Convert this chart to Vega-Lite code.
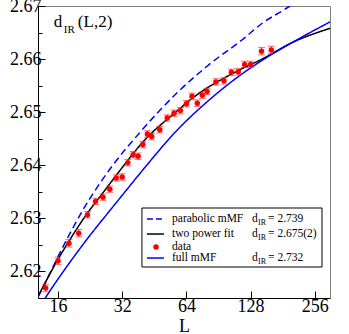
{
"$schema":"https://vega.github.io/schema/vega-lite/v6.json",
"width":292,"height":292,
"autosize":{"type":"none"},
"padding":{"left":38,"top":6,"right":19,"bottom":36},
"background":"white",
"config":{"view":{"stroke":"#808080","strokeWidth":1},"font":"Liberation Serif",
 "text":{"font":"Liberation Serif","color":"#000","align":"left","baseline":"middle","fontSize":11.5},
 "axis":{"grid":false,"domainColor":"#000","tickColor":"#000","labelColor":"#000","titleColor":"#000","labelFont":"Liberation Serif","titleFont":"Liberation Serif","labelFontSize":18,"titleFontSize":18,"titleFontWeight":"normal","domainWidth":1,"tickWidth":1,"labelOverlap":false}},
"resolve":{"axis":{"x":"independent","y":"independent"}},
"datasets":{
 "curves":[
  {"series":"parabolic mMF","L":12.9,"y":2.6152},
  {"series":"parabolic mMF","L":14,"y":2.6180},
  {"series":"parabolic mMF","L":16,"y":2.6228},
  {"series":"parabolic mMF","L":18,"y":2.6268},
  {"series":"parabolic mMF","L":20.74,"y":2.6313},
  {"series":"parabolic mMF","L":24.37,"y":2.6358},
  {"series":"parabolic mMF","L":28.04,"y":2.6393},
  {"series":"parabolic mMF","L":38.77,"y":2.6462},
  {"series":"parabolic mMF","L":58.4,"y":2.6538},
  {"series":"parabolic mMF","L":80.8,"y":2.6588},
  {"series":"parabolic mMF","L":116.6,"y":2.6636},
  {"series":"parabolic mMF","L":146.8,"y":2.6669},
  {"series":"parabolic mMF","L":185.5,"y":2.6694},
  {"series":"parabolic mMF","L":230,"y":2.6720},
  {"series":"two power fit","L":12.93,"y":2.6154},
  {"series":"two power fit","L":15.8,"y":2.6219},
  {"series":"two power fit","L":18.2,"y":2.6260},
  {"series":"two power fit","L":21.9,"y":2.6309},
  {"series":"two power fit","L":25.2,"y":2.6341},
  {"series":"two power fit","L":31.2,"y":2.6390},
  {"series":"two power fit","L":40.9,"y":2.6448},
  {"series":"two power fit","L":56.6,"y":2.6499},
  {"series":"two power fit","L":66.6,"y":2.6523},
  {"series":"two power fit","L":114.1,"y":2.6580},
  {"series":"two power fit","L":141.6,"y":2.6598},
  {"series":"two power fit","L":200.1,"y":2.6631},
  {"series":"two power fit","L":301.6,"y":2.6658},
  {"series":"full mMF","L":13.8,"y":2.6147},
  {"series":"full mMF","L":14.16,"y":2.6154},
  {"series":"full mMF","L":17.58,"y":2.6209},
  {"series":"full mMF","L":21.81,"y":2.6260},
  {"series":"full mMF","L":28.04,"y":2.6315},
  {"series":"full mMF","L":31.2,"y":2.6338},
  {"series":"full mMF","L":40.9,"y":2.6396},
  {"series":"full mMF","L":56.6,"y":2.6462},
  {"series":"full mMF","L":80.8,"y":2.6521},
  {"series":"full mMF","L":116.6,"y":2.6572},
  {"series":"full mMF","L":141.6,"y":2.6595},
  {"series":"full mMF","L":200.1,"y":2.6631},
  {"series":"full mMF","L":301.6,"y":2.6670}
 ],
 "pts":[
  {"L":14,"y":2.6169,"e":0.0007},
  {"L":16,"y":2.6220,"e":0.0007},
  {"L":18,"y":2.6253,"e":0.0007},
  {"L":20,"y":2.6272,"e":0.0007},
  {"L":22,"y":2.6307,"e":0.0006},
  {"L":24,"y":2.6332,"e":0.0006},
  {"L":26,"y":2.6340,"e":0.0006},
  {"L":28,"y":2.6355,"e":0.0006},
  {"L":30,"y":2.6376,"e":0.0006},
  {"L":32,"y":2.6378,"e":0.0006},
  {"L":34,"y":2.6405,"e":0.0006},
  {"L":36,"y":2.6420,"e":0.0006},
  {"L":38,"y":2.6417,"e":0.0006},
  {"L":40,"y":2.6439,"e":0.0006},
  {"L":42,"y":2.6459,"e":0.0006},
  {"L":44,"y":2.6454,"e":0.0006},
  {"L":48,"y":2.6467,"e":0.0006},
  {"L":52,"y":2.6489,"e":0.0006},
  {"L":56,"y":2.6498,"e":0.0006},
  {"L":60,"y":2.6503,"e":0.0006},
  {"L":64,"y":2.6516,"e":0.0006},
  {"L":68,"y":2.6530,"e":0.0006},
  {"L":72,"y":2.6517,"e":0.0006},
  {"L":76,"y":2.6532,"e":0.0006},
  {"L":80,"y":2.6539,"e":0.0006},
  {"L":88,"y":2.6557,"e":0.0006},
  {"L":96,"y":2.6559,"e":0.0006},
  {"L":104,"y":2.6575,"e":0.0006},
  {"L":112,"y":2.6576,"e":0.0006},
  {"L":120,"y":2.6590,"e":0.0006},
  {"L":128,"y":2.6590,"e":0.0006},
  {"L":144,"y":2.6615,"e":0.0007},
  {"L":160,"y":2.6617,"e":0.0007}
 ]
},
"layer":[
 {"data":{"name":"curves"},
  "mark":{"type":"line","clip":true,"interpolate":"monotone","strokeWidth":1.5},
  "encoding":{
   "x":{"field":"L","type":"quantitative","scale":{"type":"log","base":2,"domain":[12.89,301.7],"nice":false},
        "axis":{"values":[16,32,64,128,256],"format":"d","title":"L","tickSize":-7,"labelPadding":6,"labelFlush":false,"titlePadding":2}},
   "y":{"field":"y","type":"quantitative","scale":{"domain":[2.615,2.67],"nice":false,"zero":false},
        "axis":{"orient":"left","values":[2.62,2.63,2.64,2.65,2.66,2.67],"format":".2f","tickSize":-7,"labelPadding":4,"title":null}},
   "color":{"field":"series","type":"nominal",
     "scale":{"domain":["parabolic mMF","two power fit","data","full mMF"],"range":["#0000ff","#000000","#ff0000","#0000ff"]},
     "legend":null},
   "strokeDash":{"field":"series","type":"nominal","scale":{"domain":["parabolic mMF","two power fit","full mMF"],"range":[[7,4],[1,0],[1,0]]},"legend":null}
  }},
 {"data":{"values":[{}]},
  "mark":{"type":"rule","opacity":0},
  "encoding":{"y":{"datum":2.62,"type":"quantitative",
     "axis":{"orient":"left","values":[2.625,2.635,2.645,2.655,2.665],"labels":false,"domain":false,"tickSize":-4,"title":null}}}},
 {"data":{"name":"pts"},
  "mark":{"type":"errorbar","color":"#ff3030","ticks":{"size":7,"thickness":1},"thickness":1},
  "encoding":{"x":{"field":"L","type":"quantitative","axis":null},"y":{"field":"y","type":"quantitative","axis":null},"yError":{"field":"e"}}},
 {"data":{"name":"pts"},
  "mark":{"type":"point","filled":true,"size":30,"opacity":1},
  "encoding":{"x":{"field":"L","type":"quantitative","axis":null},"y":{"field":"y","type":"quantitative","axis":null},"color":{"datum":"data","type":"nominal","legend":null}}},
 {"data":{"values":[{}]},
  "mark":{"type":"rect","fill":null,"fillOpacity":0,"stroke":"#000","strokeWidth":1},
  "encoding":{"x":{"datum":39.6,"type":"quantitative","axis":null},"x2":{"datum":276.7},
              "y":{"datum":2.63195,"type":"quantitative","axis":null},"y2":{"datum":2.62084}}},
 {"data":{"values":[{}]},"mark":{"type":"rule","color":"#0000ff","strokeWidth":1.5,"strokeDash":[6,3]},
  "encoding":{"x":{"datum":41.8,"type":"quantitative","axis":null},"x2":{"datum":50.2},"y":{"datum":2.62988,"type":"quantitative","axis":null}}},
 {"data":{"values":[{}]},"mark":{"type":"rule","color":"#000000","strokeWidth":1.5},
  "encoding":{"x":{"datum":41.8,"type":"quantitative","axis":null},"x2":{"datum":50.2},"y":{"datum":2.62705,"type":"quantitative","axis":null}}},
 {"data":{"values":[{}]},"mark":{"type":"point","filled":true,"size":30,"opacity":1,"color":"#ff0000"},
  "encoding":{"x":{"datum":46.1,"type":"quantitative","axis":null},"y":{"datum":2.62461,"type":"quantitative","axis":null}}},
 {"data":{"values":[{}]},"mark":{"type":"rule","color":"#0000ff","strokeWidth":1.5},
  "encoding":{"x":{"datum":41.8,"type":"quantitative","axis":null},"x2":{"datum":50.2},"y":{"datum":2.62253,"type":"quantitative","axis":null}}},
 {"data":{"values":[{}]},"mark":{"type":"text"},
  "encoding":{"x":{"datum":54.8,"type":"quantitative","axis":null},"y":{"datum":2.62988,"type":"quantitative","axis":null},"text":{"value":"parabolic mMF"}}},
 {"data":{"values":[{}]},"mark":{"type":"text"},
  "encoding":{"x":{"datum":54.8,"type":"quantitative","axis":null},"y":{"datum":2.62705,"type":"quantitative","axis":null},"text":{"value":"two power fit"}}},
 {"data":{"values":[{}]},"mark":{"type":"text"},
  "encoding":{"x":{"datum":54.8,"type":"quantitative","axis":null},"y":{"datum":2.62461,"type":"quantitative","axis":null},"text":{"value":"data"}}},
 {"data":{"values":[{}]},"mark":{"type":"text"},
  "encoding":{"x":{"datum":54.8,"type":"quantitative","axis":null},"y":{"datum":2.62253,"type":"quantitative","axis":null},"text":{"value":"full mMF"}}},
 {"data":{"values":[{}]},"mark":{"type":"text","baseline":"alphabetic","fontSize":17},
  "encoding":{"x":{"datum":15.3,"type":"quantitative","axis":null},"y":{"datum":2.666,"type":"quantitative","axis":null},"text":{"value":"d"}}},
 {"data":{"values":[{}]},"mark":{"type":"text","baseline":"alphabetic","fontSize":11,"dx":10,"dy":6},
  "encoding":{"x":{"datum":15.3,"type":"quantitative","axis":null},"y":{"datum":2.666,"type":"quantitative","axis":null},"text":{"value":"IR"}}},
 {"data":{"values":[{}]},"mark":{"type":"text","baseline":"alphabetic","fontSize":17,"dx":24},
  "encoding":{"x":{"datum":15.3,"type":"quantitative","axis":null},"y":{"datum":2.666,"type":"quantitative","axis":null},"text":{"value":"(L,2)"}}},
 {"data":{"values":[{}]},"mark":{"type":"text"},
  "encoding":{"x":{"datum":130,"type":"quantitative","axis":null},"y":{"datum":2.62988,"type":"quantitative","axis":null},"text":{"value":"d"}}},
 {"data":{"values":[{}]},"mark":{"type":"text","fontSize":8,"dx":6,"dy":3.5},
  "encoding":{"x":{"datum":130,"type":"quantitative","axis":null},"y":{"datum":2.62988,"type":"quantitative","axis":null},"text":{"value":"IR"}}},
 {"data":{"values":[{}]},"mark":{"type":"text","dx":16},
  "encoding":{"x":{"datum":130,"type":"quantitative","axis":null},"y":{"datum":2.62988,"type":"quantitative","axis":null},"text":{"value":"= 2.739"}}},
 {"data":{"values":[{}]},"mark":{"type":"text"},
  "encoding":{"x":{"datum":130,"type":"quantitative","axis":null},"y":{"datum":2.62705,"type":"quantitative","axis":null},"text":{"value":"d"}}},
 {"data":{"values":[{}]},"mark":{"type":"text","fontSize":8,"dx":6,"dy":3.5},
  "encoding":{"x":{"datum":130,"type":"quantitative","axis":null},"y":{"datum":2.62705,"type":"quantitative","axis":null},"text":{"value":"IR"}}},
 {"data":{"values":[{}]},"mark":{"type":"text","dx":16},
  "encoding":{"x":{"datum":130,"type":"quantitative","axis":null},"y":{"datum":2.62705,"type":"quantitative","axis":null},"text":{"value":"= 2.675(2)"}}},
 {"data":{"values":[{}]},"mark":{"type":"text"},
  "encoding":{"x":{"datum":130,"type":"quantitative","axis":null},"y":{"datum":2.62253,"type":"quantitative","axis":null},"text":{"value":"d"}}},
 {"data":{"values":[{}]},"mark":{"type":"text","fontSize":8,"dx":6,"dy":3.5},
  "encoding":{"x":{"datum":130,"type":"quantitative","axis":null},"y":{"datum":2.62253,"type":"quantitative","axis":null},"text":{"value":"IR"}}},
 {"data":{"values":[{}]},"mark":{"type":"text","dx":16},
  "encoding":{"x":{"datum":130,"type":"quantitative","axis":null},"y":{"datum":2.62253,"type":"quantitative","axis":null},"text":{"value":"= 2.732"}}}
]
}
